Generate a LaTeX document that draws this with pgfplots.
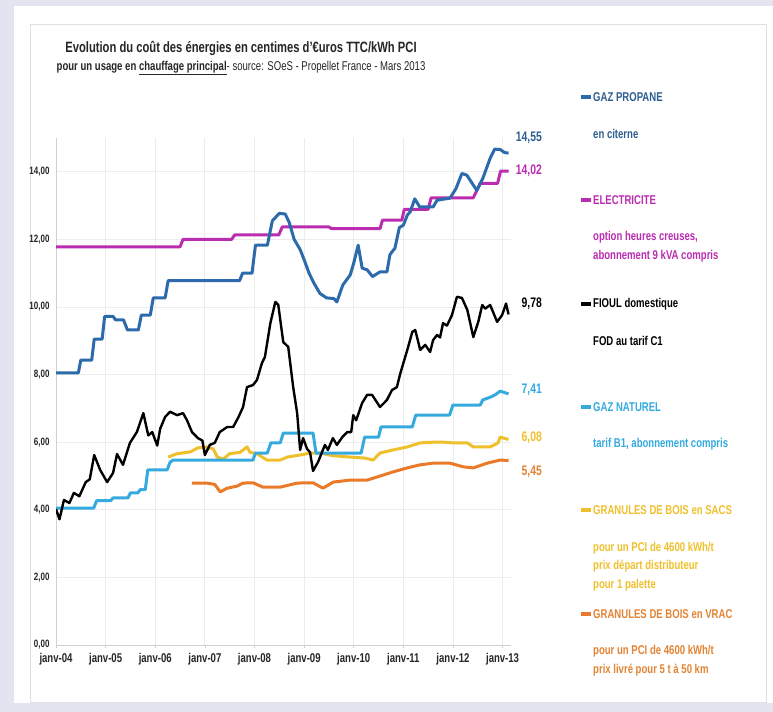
\documentclass[border=0pt]{standalone}
\usepackage{pgfplots}
\pgfplotsset{compat=1.18}
\usepackage{fontspec}
\setmainfont{Liberation Sans}[FakeStretch=0.75]
\definecolor{bgl}{RGB}{228,228,240}
\definecolor{cprop}{RGB}{44,106,172}
\definecolor{cproptxt}{RGB}{46,94,145}
\definecolor{celec}{RGB}{186,44,176}
\definecolor{cgn}{RGB}{52,170,222}
\definecolor{csac}{RGB}{240,192,44}
\definecolor{cvrac}{RGB}{234,122,40}
\definecolor{cvractxt}{RGB}{226,132,52}
\definecolor{gridc}{RGB}{236,236,236}
\begin{document}
\begin{tikzpicture}[x=1bp,y=1bp]
\useasboundingbox (0,0) rectangle (773,712);
\fill[bgl] (0,0) rectangle (773,712);
\fill[white] (14,9) rectangle (773,706);
\draw[black!12, line width=0.8bp] (30,10) rectangle (766,688);

\node[font=\bfseries\fontsize{15}{17}\selectfont, text=black!85] at (241,663) {Evolution du coût des énergies en centimes d'€uros TTC/kWh PCI};
\node[font=\fontsize{12.8}{15}\selectfont, text=black!85] at (241,644) {\textbf{pour un usage en \underline{chauffage principal}}- source: SOeS - Propellet France - Mars 2013};

\begin{axis}[at={(56bp,67bp)}, anchor=south west, scale only axis,
  width=455bp, height=507bp,
  xmin=0, xmax=9.17, ymin=0, ymax=15,
  axis x line=bottom, axis y line=left,
  axis line style={draw=black!18, line width=0.8bp, -},
  grid=major, major grid style={draw=gridc, line width=0.8bp},
  xtick={0,1,...,9},
  xticklabels={janv-04,janv-05,janv-06,janv-07,janv-08,janv-09,janv-10,janv-11,janv-12,janv-13},
  ytick={0,2,...,14},
  x tick style={draw=black!20, line width=0.6bp},
  y tick style={draw=none},
  major tick length=3bp, tick align=outside,
  xticklabel style={font=\bfseries\fontsize{12.8}{15}\selectfont, text=black!85, yshift=-2bp},
  yticklabel style={font=\bfseries\fontsize{10.7}{12}\selectfont, text=black!85, xshift=0bp},
  /pgf/number format/.cd, fixed, fixed zerofill, precision=2, use comma, assume math mode=true,
]
% ELECTRICITE
\addplot[celec, line width=3bp, line join=round] coordinates {
(0,11.78) (2.5,11.78) (2.56,12.0) (3.54,12.0) (3.6,12.13) (4.49,12.13) (4.56,12.37) (5.5,12.37) (5.55,12.32) (6.53,12.32) (6.58,12.57) (6.97,12.57) (7.02,12.89) (7.5,12.89) (7.56,13.23) (8.41,13.23) (8.55,13.66) (8.9,13.66) (8.96,14.02) (9.12,14.02)};
% GAZ PROPANE
\addplot[cprop, line width=3bp, line join=round] coordinates {
(0,8.05) (0.45,8.05) (0.5,8.43) (0.72,8.43) (0.77,9.05) (0.93,9.05) (0.98,9.72) (1.15,9.72) (1.2,9.62) (1.36,9.62) (1.44,9.32) (1.66,9.32) (1.72,9.76) (1.9,9.76) (1.96,10.27) (2.2,10.27) (2.26,10.78) (3.7,10.78) (3.76,11.0) (3.95,11.0) (4.02,11.83) (4.26,11.83) (4.36,12.55) (4.5,12.77) (4.62,12.75) (4.7,12.5) (4.8,12.0) (4.92,11.7) (5.0,11.4) (5.1,11.0) (5.2,10.7) (5.32,10.4) (5.45,10.27) (5.6,10.25) (5.66,10.15) (5.78,10.65) (5.93,10.95) (6.0,11.3) (6.09,11.83) (6.17,11.15) (6.27,11.1) (6.38,10.9) (6.53,11.04) (6.67,11.04) (6.73,11.55) (6.83,11.74) (6.92,12.35) (7.0,12.42) (7.08,12.72) (7.14,12.82) (7.23,13.2) (7.33,12.96) (7.6,12.96) (7.68,13.16) (7.94,13.22) (8.06,13.5) (8.18,13.95) (8.28,13.9) (8.48,13.45) (8.6,13.8) (8.75,14.4) (8.84,14.67) (8.95,14.66) (9.04,14.57) (9.12,14.55)};
% GRANULES SACS
\addplot[csac, line width=3bp, line join=round] coordinates {
(2.26,5.56) (2.44,5.66) (2.7,5.71) (2.86,5.83) (3.04,5.86) (3.17,5.8) (3.25,5.56) (3.37,5.5) (3.5,5.66) (3.71,5.7) (3.85,5.86) (3.91,5.7) (4.05,5.66) (4.25,5.47) (4.52,5.47) (4.66,5.56) (4.92,5.62) (5.12,5.68) (5.32,5.68) (5.58,5.6) (5.93,5.56) (6.23,5.53) (6.39,5.47) (6.53,5.68) (6.79,5.77) (7.08,5.86) (7.34,5.98) (7.6,6.0) (7.8,6.0) (8.0,5.98) (8.29,5.98) (8.41,5.86) (8.75,5.86) (8.91,5.98) (8.95,6.15) (9.12,6.08)};
% GRANULES VRAC
\addplot[cvrac, line width=3bp, line join=round] coordinates {
(2.74,4.79) (3.04,4.79) (3.2,4.75) (3.31,4.53) (3.45,4.64) (3.65,4.7) (3.77,4.79) (3.97,4.8) (4.17,4.67) (4.52,4.67) (4.86,4.79) (5.1,4.8) (5.18,4.8) (5.38,4.64) (5.59,4.82) (5.93,4.88) (6.27,4.88) (6.47,4.97) (6.79,5.12) (7.08,5.24) (7.34,5.33) (7.6,5.38) (7.94,5.38) (8.21,5.27) (8.41,5.24) (8.69,5.38) (8.95,5.47) (9.12,5.46)};
% GAZ NATUREL
\addplot[cgn, line width=3bp, line join=round] coordinates {
(0,4.05) (0.76,4.05) (0.82,4.27) (1.1,4.27) (1.15,4.35) (1.45,4.35) (1.5,4.5) (1.65,4.5) (1.7,4.6) (1.8,4.6) (1.85,5.18) (2.24,5.18) (2.3,5.41) (2.36,5.47) (3.97,5.47) (4.02,5.68) (4.26,5.68) (4.33,5.98) (4.52,5.98) (4.58,6.27) (5.18,6.27) (5.24,5.68) (6.15,5.68) (6.22,6.15) (6.5,6.15) (6.55,6.45) (7.18,6.45) (7.25,6.8) (7.93,6.8) (8.0,7.1) (8.55,7.1) (8.6,7.25) (8.75,7.33) (8.85,7.4) (8.95,7.51) (9.12,7.43)};
% FIOUL
\addplot[black, line width=2.4bp, line join=round] coordinates {
(0,4.02) (0.07,3.72) (0.16,4.29) (0.27,4.2) (0.36,4.5) (0.47,4.4) (0.6,4.82) (0.68,4.9) (0.77,5.62) (0.89,5.18) (1.03,4.82) (1.15,5.09) (1.23,5.65) (1.35,5.33) (1.49,5.98) (1.63,6.3) (1.76,6.86) (1.86,6.2) (1.94,6.3) (2.04,5.9) (2.1,6.4) (2.2,6.75) (2.3,6.9) (2.44,6.8) (2.56,6.86) (2.64,6.65) (2.74,6.3) (2.86,6.12) (2.95,6.05) (3.0,5.62) (3.1,5.92) (3.2,5.98) (3.3,6.3) (3.45,6.45) (3.57,6.45) (3.67,6.72) (3.77,7.04) (3.85,7.63) (3.97,7.69) (4.05,7.84) (4.15,8.34) (4.21,8.52) (4.32,9.52) (4.42,10.15) (4.48,10.06) (4.58,8.96) (4.68,8.82) (4.78,7.63) (4.86,6.86) (4.92,5.77) (4.98,6.12) (5.06,5.8) (5.12,5.7) (5.18,5.15) (5.28,5.41) (5.42,5.92) (5.48,5.77) (5.58,6.12) (5.66,5.92) (5.77,6.15) (5.87,6.3) (5.95,6.3) (5.99,6.8) (6.05,6.65) (6.17,7.16) (6.27,7.4) (6.37,7.4) (6.53,7.04) (6.67,7.25) (6.77,7.54) (6.87,7.63) (6.94,8.04) (7.08,8.73) (7.18,9.26) (7.24,9.32) (7.34,8.73) (7.44,8.88) (7.54,8.67) (7.6,9.02) (7.68,9.17) (7.74,9.1) (7.8,9.52) (7.88,9.45) (7.98,9.76) (8.08,10.3) (8.18,10.27) (8.29,9.91) (8.41,9.11) (8.51,9.56) (8.59,10.06) (8.65,9.95) (8.75,10.06) (8.89,9.56) (8.99,9.76) (9.07,10.1) (9.12,9.78)};
\end{axis}

% value labels
\begin{scope}[every node/.style={anchor=east, font=\bfseries\fontsize{13.9}{16}\selectfont, inner sep=0pt}]
\node[text=cproptxt] at (542,574) {14,55};
\node[text=celec] at (542,541) {14,02};
\node[text=black] at (542,408) {9,78};
\node[text=cgn] at (542,322) {7,41};
\node[text=csac] at (542,274) {6,08};
\node[text=cvractxt] at (542,240) {5,45};
\end{scope}

% legend
\begin{scope}[every node/.style={anchor=west, font=\bfseries\fontsize{12.8}{15}\selectfont, inner sep=0pt}]
\draw[cprop, line width=3.5bp] (581,615) -- (591,615);
\node[text=cproptxt] at (593,615) {GAZ PROPANE};
\node[text=cproptxt] at (593,578) {en citerne};
\draw[celec, line width=3.5bp] (581,512) -- (591,512);
\node[text=celec] at (593,512) {ELECTRICITE};
\node[text=celec] at (593,475) {option heures creuses,};
\node[text=celec] at (593,456) {abonnement 9 kVA compris};
\draw[black, line width=3.5bp] (581,408) -- (591,408);
\node[text=black] at (593,408) {FIOUL domestique};
\node[text=black] at (593,371) {FOD au tarif C1};
\draw[cgn, line width=3.5bp] (581,305) -- (591,305);
\node[text=cgn] at (593,305) {GAZ NATUREL};
\node[text=cgn] at (593,268) {tarif B1, abonnement compris};
\draw[csac, line width=3.5bp] (581,202) -- (591,202);
\node[text=csac] at (593,202) {GRANULES DE BOIS en SACS};
\node[text=csac] at (593,164) {pour un PCI de 4600 kWh/t};
\node[text=csac] at (593,146) {prix départ distributeur};
\node[text=csac] at (593,127) {pour 1 palette};
\draw[cvrac, line width=3.5bp] (581,98) -- (591,98);
\node[text=cvractxt] at (593,98) {GRANULES DE BOIS en VRAC};
\node[text=cvractxt] at (593,61) {pour un PCI de 4600 kWh/t};
\node[text=cvractxt] at (593,42) {prix livré pour 5 t à 50 km};
\end{scope}
\end{tikzpicture}
\end{document}
